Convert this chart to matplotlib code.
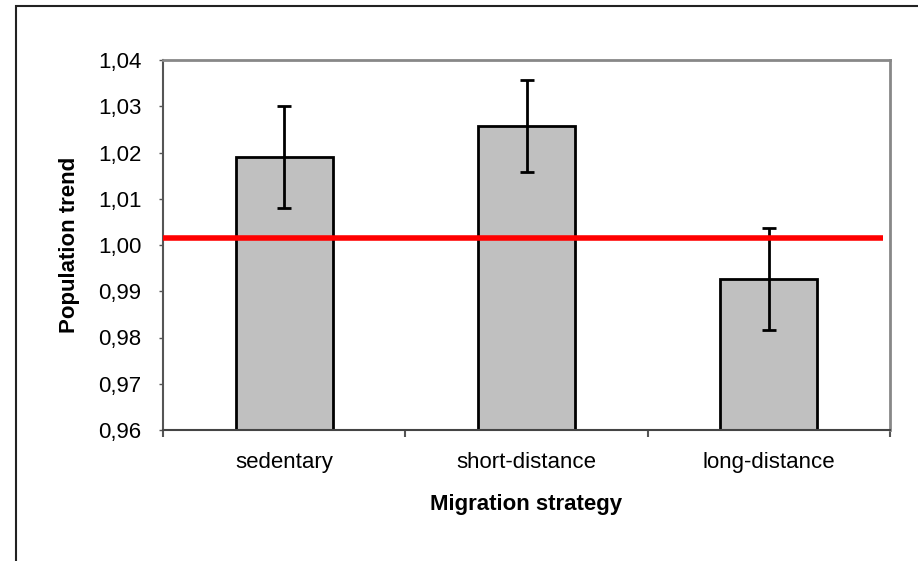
import matplotlib.pyplot as plt
from matplotlib.patches import Rectangle
from matplotlib.ticker import FuncFormatter
import numpy as np

plt.rcParams['font.family'] = ['Liberation Sans', 'DejaVu Sans']

strategies = ['sedentary', 'short-distance', 'long-distance']
trend = [1.019, 1.0257, 0.9926]
trend_err = [0.011, 0.010, 0.011]
reference_level = 1.0016
y_ticks = [0.96, 0.97, 0.98, 0.99, 1.00, 1.01, 1.02, 1.03, 1.04]

W, H = 918, 561
fig = plt.figure(figsize=(W / 100, H / 100), dpi=100)

# outer chart frame (runs off the right and bottom edges)
fig.patches.append(Rectangle((16 / W, -0.05), 1.0, (H - 6) / H + 0.05,
                             transform=fig.transFigure, fill=False,
                             edgecolor='#222222', linewidth=1.5))

ax = fig.add_axes([163 / W, 1 - 430 / H, (890 - 163) / W, (430 - 60) / H])

x = np.arange(len(strategies))
ax.bar(x, [t - 0.96 for t in trend], bottom=0.96, width=0.40,
       color='#c0c0c0', edgecolor='black', linewidth=2, zorder=2)
ax.errorbar(x, trend, yerr=trend_err, fmt='none', ecolor='black',
            elinewidth=2, capsize=5, capthick=2, zorder=3)
ax.plot([-0.51, 2.47], [reference_level, reference_level],
        color='#ff0000', linewidth=4, zorder=4, solid_capstyle='butt')

ax.set_xlim(-0.5, 2.5)
ax.set_ylim(0.96, 1.04)
ax.set_yticks(y_ticks)
ax.yaxis.set_major_formatter(FuncFormatter(lambda v, p: f'{v:.2f}'.replace('.', ',')))
ax.set_xticks(x)
ax.set_xticklabels(strategies)
ax.set_xticks([-0.5, 0.5, 1.5, 2.5], minor=True)
ax.tick_params(axis='x', which='major', length=0, pad=16, labelsize=16)
ax.tick_params(axis='x', which='minor', length=5, width=1.5, color='#555555')
ax.tick_params(axis='y', length=3, width=1, color='#555555', labelsize=16, pad=12.5)

for side in ['top', 'right']:
    ax.spines[side].set_color('#888888')
    ax.spines[side].set_linewidth(2)
ax.spines['left'].set_color('#555555')
ax.spines['left'].set_linewidth(1.5)
ax.spines['bottom'].set_color('#444444')
ax.spines['bottom'].set_linewidth(1.5)

ax.set_xlabel('Migration strategy', fontsize=16, fontweight='bold', labelpad=15)
ax.set_ylabel('Population trend', fontsize=16, fontweight='bold', labelpad=13)

fig.savefig('out.png', dpi=100)
